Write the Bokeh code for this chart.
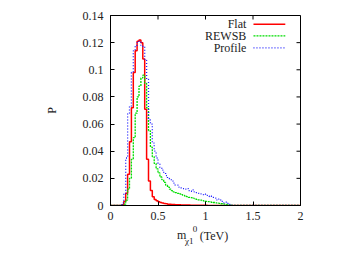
import numpy as np
from bokeh.plotting import figure
from bokeh.layouts import column
from bokeh.models import Range1d, LinearAxis, FixedTicker, NumeralTickFormatter, Label
from bokeh.embed import file_html
from bokeh.resources import INLINE

# ---- data (bin width 0.02 TeV, values per bin starting at x = 0) ----
bin_width = 0.02
flat = [0, 0, 0, 0, 0, 0, 0.0005, 0.003, 0.009, 0.023, 0.047, 0.072, 0.098, 0.114,
        0.121, 0.122, 0.120, 0.108, 0.071, 0.034, 0.018, 0.011, 0.0065, 0.0045,
        0.0035, 0.0028, 0.0022, 0.0018, 0.0015, 0.0012, 0.0010, 0.0009, 0.0008,
        0.0007, 0.0006, 0.0005, 0.0005, 0.0004, 0.0004, 0.0003, 0.0003, 0.0003,
        0.0002, 0.0002, 0.0002, 0.0002, 0.0001, 0.0001, 0.0001, 0.0001, 0.0001]
rewsb = [0, 0, 0, 0, 0, 0, 0, 0.001, 0.004, 0.012, 0.020, 0.034, 0.050, 0.068,
         0.080, 0.088, 0.094, 0.096, 0.090, 0.072, 0.055, 0.043, 0.036, 0.031,
         0.027, 0.024, 0.021, 0.019, 0.017, 0.015, 0.0135, 0.012, 0.011, 0.010,
         0.0095, 0.009, 0.0085, 0.008, 0.0075, 0.007, 0.0065, 0.006, 0.0058,
         0.0054, 0.005, 0.0045, 0.0042, 0.004, 0.0036, 0.0033, 0.003, 0.0028,
         0.0026, 0.0024, 0.0022, 0.002, 0.0017, 0.0015, 0.0013, 0.0011, 0.001,
         0.0007, 0.0004, 0.0002]
profile = [0, 0, 0, 0, 0, 0.0005, 0.002, 0.009, 0.035, 0.068, 0.073, 0.098, 0.114,
           0.118, 0.120, 0.121, 0.118, 0.117, 0.107, 0.093, 0.063, 0.060, 0.046,
           0.040, 0.035, 0.031, 0.028, 0.026, 0.024, 0.022, 0.020, 0.019, 0.018,
           0.0165, 0.015, 0.015, 0.0135, 0.013, 0.0125, 0.012, 0.0125, 0.011,
           0.0105, 0.0115, 0.010, 0.0095, 0.009, 0.0085, 0.008, 0.0085, 0.0075,
           0.007, 0.0065, 0.0068, 0.006, 0.0055, 0.004, 0.0048, 0.003, 0.002,
           0.0025, 0.0015, 0.0008, 0.0003]
series_names = ["Flat", "REWSB", "Profile"]
x_ticks = [0, 0.5, 1, 1.5, 2]
y_ticks = [0, 0.02, 0.04, 0.06, 0.08, 0.1, 0.12, 0.14]

n_bins = 100
FONT = "Liberation Serif"
TXT = "#222222"
X0, X1, Y0, Y1 = 0, 2, 0, 0.14
FRAME = 190          # frame size in px (square)
BL, BR, BT = 110, 54, 15
H1 = 222


def hist_xy(vals):
    v = list(vals) + [0.0] * (n_bins - len(vals))
    edges = np.arange(n_bins + 1) * bin_width
    return edges, np.array(v + [v[-1]])


p = figure(width=BL + FRAME + BR, height=H1, output_backend="svg", toolbar_location=None,
           x_range=Range1d(X0, X1), y_range=Range1d(Y0, Y1),
           min_border_left=BL, min_border_right=BR, min_border_top=BT,
           min_border_bottom=H1 - BT - FRAME, x_axis_location=None, y_axis_location=None)
p.grid.visible = False
p.outline_line_color = "black"
p.outline_line_width = 1
p.background_fill_color = "white"
p.border_fill_color = "white"

styles = [
    dict(color="#ff0000", line_width=1.5, line_dash="solid"),
    dict(color="#00dd00", line_width=1.3, line_dash="2 1"),
    dict(color="#1a1aff", line_width=1.3, line_dash="1 2"),
]
for vals, st in zip([flat, rewsb, profile], styles):
    xs, ys = hist_xy(vals)
    p.step(xs, ys, mode="after", line_color=st["color"], line_width=st["line_width"],
           line_dash=st["line_dash"])


def make_axis(ticks, fmt, standoff):
    ax = LinearAxis(ticker=FixedTicker(ticks=ticks), formatter=NumeralTickFormatter(format=fmt))
    ax.major_tick_in = 4
    ax.major_tick_out = 0
    ax.minor_tick_line_color = None
    ax.axis_line_color = "black"
    ax.major_tick_line_color = "black"
    ax.major_label_text_font = FONT
    ax.major_label_text_font_size = "12px"
    ax.major_label_text_color = TXT
    ax.major_label_standoff = standoff
    return ax


bottom = make_axis(x_ticks, "0.[0]", 6)
left = make_axis(y_ticks, "0.[00]", 7)
left.axis_label = "P"
left.axis_label_text_font = FONT
left.axis_label_text_font_size = "12px"
left.axis_label_text_font_style = "normal"
left.axis_label_text_color = TXT
left.axis_label_standoff = 21
p.add_layout(bottom, "below")
p.add_layout(left, "left")

# mirrored inward ticks on the top and right frame edges
dx = 4 * (X1 - X0) / FRAME
dy = 4 * (Y1 - Y0) / FRAME
p.segment(x0=x_ticks, y0=[Y1] * len(x_ticks), x1=x_ticks, y1=[Y1 - dy] * len(x_ticks),
          line_color="black", line_width=1)
p.segment(x0=[X1] * len(y_ticks), y0=y_ticks, x1=[X1 - dx] * len(y_ticks), y1=y_ticks,
          line_color="black", line_width=1)

# legend (gnuplot style: text right-aligned, sample to the right)
leg_y = [0.1336, 0.1250, 0.1162]
for name, st, yy in zip(series_names, styles, leg_y):
    p.add_layout(Label(x=1.43, y=yy, text=name, text_font=FONT, text_font_size="12px",
                       text_baseline="middle", text_align="right", text_color=TXT))
    p.line([1.505, 1.84], [yy, yy], line_color=st["color"], line_width=st["line_width"],
           line_dash=st["line_dash"])

# x-axis title strip (with sub/superscripts)
H2 = 24
strip = figure(width=BL + FRAME + BR, height=H2, output_backend="svg", toolbar_location=None,
               x_range=Range1d(X0, X1), y_range=Range1d(0, 1),
               min_border_left=BL, min_border_right=BR, min_border_top=0,
               min_border_bottom=0, x_axis_location=None, y_axis_location=None)
strip.grid.visible = False
strip.outline_line_color = None
strip.border_fill_color = "white"
xlab = [("m", 0.70, 0.46, "12px"), ("\u03c71", 0.785, 0.21, "9px"),
        ("0", 0.865, 0.75, "9px"), ("(TeV)", 0.94, 0.42, "12px")]
for txt, xx, yy, fs in xlab:
    strip.add_layout(Label(x=xx, y=yy, text=txt, text_font=FONT, text_font_size=fs,
                           text_baseline="middle", text_align="left", text_color=TXT))

open("out.html", "w").write(file_html(column(p, strip, spacing=0), INLINE))
